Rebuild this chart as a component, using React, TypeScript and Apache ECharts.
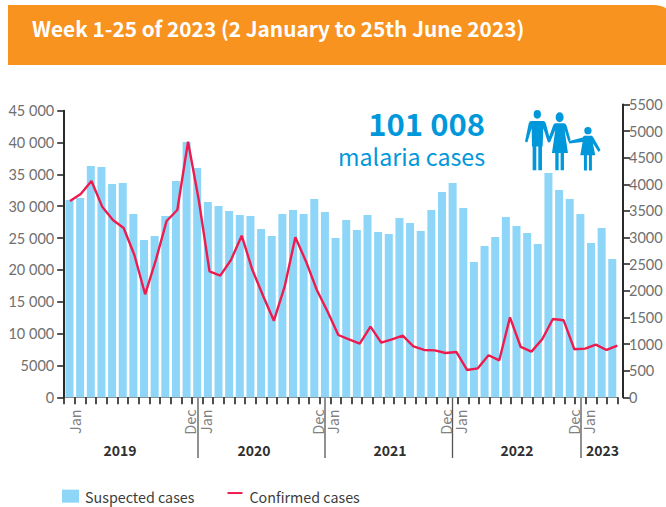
import React, { useEffect, useRef } from "react";
import * as echarts from "echarts";

const suspectedCases = [
  30980, 31300, 36320, 36160, 33490, 33650, 28790, 24700, 25335, 28470, 33960, 40080,
  36000, 30670, 30040, 29260, 28630, 28470, 26430, 25335, 28790, 29400, 28790, 31140,
  29100, 25020, 27850, 26280, 28630, 25960, 25650, 28160, 27370, 26120, 29410, 32240,
  33650, 29730, 21250, 23770, 25180, 28320, 26900, 25800, 24080, 35220, 32550, 31140,
  28790, 24240, 26590, 21730,
];
const confirmedCases = [
  3686, 3817, 4061, 3580, 3329, 3179, 2672, 1934, 2578, 3310, 3517, 4800,
  3705, 2366, 2284, 2578, 3035, 2390, 1902, 1439, 2078, 3004, 2547, 2015,
  1610, 1170, 1089, 1007, 1327, 1026, 1089, 1158, 957, 889, 882, 832,
  851, 513, 544, 789, 695, 1502, 945, 857, 1089, 1471, 1446, 901,
  914, 989, 889, 970,
];
const monthLabels: Record<number, string> = {
  1: "Jan", 12: "Dec", 13: "Jan", 24: "Dec", 25: "Jan", 36: "Dec", 37: "Jan", 48: "Dec", 49: "Jan",
};
const yearLabels = [
  { year: "2019", x: 120 },
  { year: "2020", x: 254 },
  { year: "2021", x: 390 },
  { year: "2022", x: 517 },
  { year: "2023", x: 602.5 },
];
const dividers = [198, 325, 452.5, 581];
const titleText = "Week 1-25 of 2023 (2 January to 25th June 2023)";
const totalText = "101 008";
const totalLabel = "malaria cases";

const barCategories = suspectedCases.map((_, i) => `B${i}`);
const lineCategories = confirmedCases.map((_, i) => `L${i}`);
const boundaryCategories = [...suspectedCases.map((_, i) => `T${i}`), "T52"];

const circle = (cx: number, cy: number, rx: number, ry: number) =>
  `M${cx - rx} ${cy}A${rx} ${ry} 0 1 0 ${cx + rx} ${cy}A${rx} ${ry} 0 1 0 ${cx - rx} ${cy}Z`;
const familyPath = [
  circle(82, 58, 11, 13),
  "M62 78L102 78Q106 80 108 86L122 140L114 143L100 100L98 155L96 155L96 226L85 226L85 155L79 155L79 226L68 226L68 155L66 155L65 100L52 143L45 140L56 86Q58 80 62 78Z",
  circle(149, 67, 12, 15),
  "M135 85L163 85Q168 87 170 92L182 135L175 140L164 105L174 174L162 174L162 226L152 226L152 174L146 174L146 226L136 226L136 174L126 174L136 105L120 143L113 138L128 95Q130 87 135 85Z",
  circle(234, 107, 11, 11),
  "M222 122L246 122L250 127L272 165L266 171L249 145L256 181L246 181L246 227L237 227L237 181L231 181L231 227L222 227L222 181L211 181L218 141L178 146L176 139L218 128Z",
].join("");

echarts.graphic.registerShape("family", echarts.graphic.extendPath(familyPath, {}));

const AXIS_FONT = "Lato";
const TEXT_FONT = "'Noto Sans CJK SC'";
const LEGEND_LINE_ICON = "path://M0 0L0 0M0 2.4H15V4.4H0ZM17 13L17 13";
const MONTH_SIZE = 14.5;

export default function App() {
  const ref = useRef<HTMLDivElement>(null);

  useEffect(() => {
    const chart = echarts.init(ref.current!, undefined, { renderer: "svg" });
    chart.setOption({
      animation: false,
      backgroundColor: "#ffffff",
      grid: [
        { left: 64.2, width: 553.4, top: 110.7, height: 286.6, containLabel: false },
        { left: 70, width: 547.3, top: 104.4, height: 292.9, containLabel: false },
      ],
      xAxis: [
        { type: "category", gridIndex: 0, data: barCategories, position: "top", show: false },
        { type: "category", gridIndex: 1, data: lineCategories, boundaryGap: false, show: false },
        {
          type: "category",
          gridIndex: 0,
          data: boundaryCategories,
          position: "bottom",
          boundaryGap: false,
          axisLine: { lineStyle: { color: "#808080", width: 1 } },
          axisTick: { show: true, interval: 0, length: 7, lineStyle: { color: "#222222", width: 1.6 } },
          axisLabel: {
            interval: 0,
            rotate: 90,
            margin: 12,
            hideOverlap: false,
            color: "#808080",
            fontFamily: TEXT_FONT,
            fontSize: MONTH_SIZE,
            formatter: (_: string, i: number) => {
              const m = monthLabels[i];
              if (!m) return "";
              if (i === 1) return `{a|${m}}`;
              return m === "Dec" ? `{d|${m}}` : `{j|${m}}`;
            },
            rich: {
              a: { fontFamily: TEXT_FONT, fontSize: MONTH_SIZE, color: "#808080" },
              d: { fontFamily: TEXT_FONT, fontSize: MONTH_SIZE, color: "#808080", padding: [0, 0, 4, 0] },
              j: { fontFamily: TEXT_FONT, fontSize: MONTH_SIZE, color: "#808080", padding: [5, 0, 0, 0] },
            },
          },
        },
      ],
      yAxis: [
        {
          type: "value",
          gridIndex: 0,
          min: 0,
          max: 45000,
          interval: 5000,
          splitLine: { show: false },
          axisLine: { show: true, lineStyle: { color: "#2a2a2a", width: 2 } },
          axisTick: { show: true, length: 7, lineStyle: { color: "#2a2a2a", width: 1.6 } },
          axisLabel: {
            margin: 7,
            color: "#6f6f6f",
            fontFamily: AXIS_FONT,
            fontSize: 14.5,
            padding: [0, 3, 0, 0],
            formatter: (v: number) => (v >= 10000 ? `${Math.floor(v / 1000)} 000` : `${v}`),
          },
        },
        {
          type: "value",
          gridIndex: 1,
          position: "right",
          offset: 5.7,
          min: 0,
          max: 5500,
          interval: 500,
          splitLine: { show: false },
          axisLine: { show: true, lineStyle: { color: "#2a2a2a", width: 2 } },
          axisTick: { show: true, length: 7, lineStyle: { color: "#2a2a2a", width: 1.6 } },
          axisLabel: {
            margin: 6,
            color: "#6f6f6f",
            fontFamily: AXIS_FONT,
            fontSize: 14.5,
            formatter: (v: number) => `${v}`,
          },
        },
      ],
      legend: {
        left: 62,
        top: 489,
        padding: 0,
        itemWidth: 17,
        itemHeight: 13,
        itemGap: 33,
        symbolKeepAspect: false,
        textStyle: { fontFamily: TEXT_FONT, fontSize: 14.3, color: "#3c3c3c" },
        data: [
          { name: "Suspected cases", icon: "rect", textStyle: { padding: [0, 0, 3, 1] } },
          { name: "Confirmed cases", icon: LEGEND_LINE_ICON, textStyle: { padding: [0, 0, 3, 0] } },
        ],
      },
      series: [
        {
          name: "Suspected cases",
          type: "bar",
          xAxisIndex: 0,
          yAxisIndex: 0,
          barWidth: 8,
          data: suspectedCases,
          itemStyle: { color: "#8ed6f7" },
        },
        {
          name: "Confirmed cases",
          type: "line",
          xAxisIndex: 1,
          yAxisIndex: 1,
          data: confirmedCases,
          showSymbol: false,
          symbol: "none",
          z: 5,
          lineStyle: { color: "#ee1c4e", width: 2.4 },
          itemStyle: { color: "#ee1c4e" },
        },
      ],
      graphic: [
        {
          type: "rect",
          shape: { x: 8, y: 5, width: 670, height: 60, r: [0, 24, 0, 0] },
          style: { fill: "#f8931f" },
        },
        {
          type: "text",
          x: 32,
          y: 28,
          style: {
            text: titleText,
            fontFamily: TEXT_FONT,
            fontWeight: "bold",
            fontSize: 20.8,
            fill: "#ffffff",
            verticalAlign: "middle",
          },
        },
        {
          type: "text",
          x: 485,
          y: 122,
          style: {
            text: totalText,
            fontFamily: TEXT_FONT,
            fontWeight: "bold",
            fontSize: 31,
            fill: "#0098db",
            align: "right",
            verticalAlign: "middle",
          },
        },
        {
          type: "text",
          x: 485,
          y: 156,
          style: {
            text: totalLabel,
            fontFamily: TEXT_FONT,
            fontSize: 23.2,
            fill: "#0098db",
            align: "right",
            verticalAlign: "middle",
          },
        },
        {
          type: "family",
          x: 510,
          y: 95,
          scaleX: 1 / 3,
          scaleY: 1 / 3,
          style: { fill: "#0098db" },
        },
        ...dividers.map((x) => ({
          type: "line",
          shape: { x1: x, y1: 397, x2: x, y2: 458 },
          style: { stroke: "#555555", lineWidth: 1.3 },
        })),
        ...yearLabels.map((d) => ({
          type: "text",
          x: d.x,
          y: 450,
          style: {
            text: d.year,
            fontFamily: TEXT_FONT,
            fontWeight: "bold",
            fontSize: 14,
            fill: "#2f2f2f",
            align: "center",
            verticalAlign: "middle",
          },
        })),
      ],
    });
    return () => chart.dispose();
  }, []);

  return (
    <div
      ref={ref}
      style={{ position: "fixed", left: 0, top: 0, width: 666, height: 507, background: "#fff" }}
    />
  );
}
